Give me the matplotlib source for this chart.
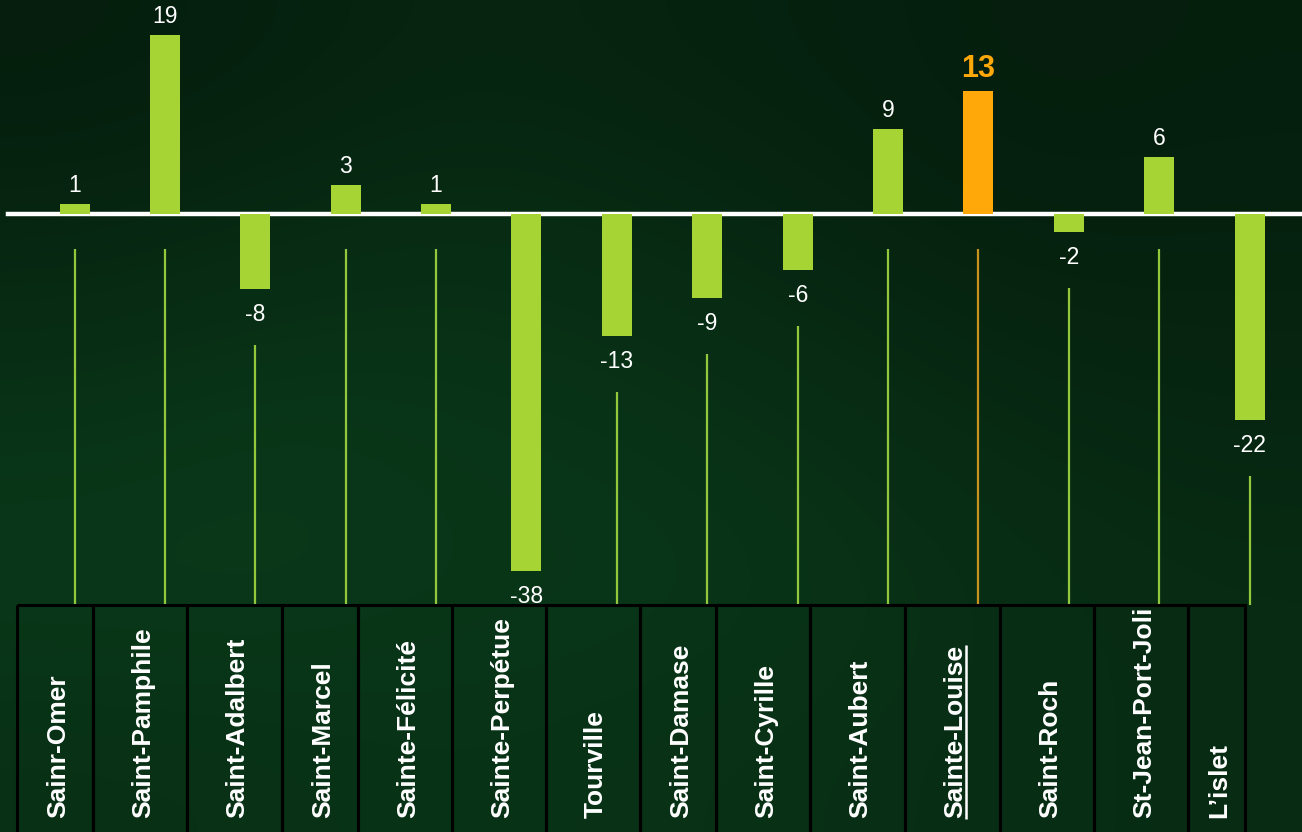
import matplotlib
matplotlib.use("Agg")
import matplotlib.pyplot as plt
import numpy as np
from matplotlib.patches import Rectangle

# ---------------- data ----------------
categories = ["Sainr-Omer", "Saint-Pamphile", "Saint-Adalbert", "Saint-Marcel",
              "Sainte-Félicité", "Sainte-Perpétue", "Tourville", "Saint-Damase",
              "Saint-Cyrille", "Saint-Aubert", "Sainte-Louise", "Saint-Roch",
              "St-Jean-Port-Joli", "L’islet"]
values = [1, 19, -8, 3, 1, -38, -13, -9, -6, 9, 13, -2, 6, -22]
highlight = "Sainte-Louise"

# ---------------- style / layout ----------------
W, H = 1302, 832
BAR_GREEN = "#a6d435"
LINE_GREEN = "#93c83c"
ORANGE = "#ffa80a"
LINE_ORANGE = "#c9921c"
plt.rcParams["font.family"] = ["Liberation Sans", "DejaVu Sans"]

fig = plt.figure(figsize=(W / 100, H / 100), dpi=100)

# background (soft dark-green gradient)
bg = fig.add_axes([0, 0, 1, 1], zorder=-5)
shade = np.array([
    [0.50, 0.55, 0.62, 0.58, 0.55, 0.50, 0.52],
    [0.65, 0.72, 0.78, 0.72, 0.62, 0.55, 0.56],
    [0.85, 0.92, 0.88, 0.85, 0.78, 0.68, 0.64],
    [0.95, 0.95, 0.90, 0.90, 0.85, 0.78, 0.72],
    [0.80, 0.82, 0.85, 0.82, 0.80, 0.76, 0.74],
])
base = np.array([0.040, 0.235, 0.105])
img = shade[..., None] * base[None, None, :]
bg.imshow(img, extent=(0, W, H, 0), aspect="auto", interpolation="bicubic")
bg.set_xlim(0, W); bg.set_ylim(H, 0); bg.axis("off")

# main axes in data units, mapped so bars sit at the reference positions
x0_px, dx_px = 74.5, 90.4     # first bar centre, spacing (pixels)
zero_px, scale = 213.5, 9.4   # zero line position, pixels per unit
ax = fig.add_axes([0, 0, 1, 1])
ax.set_xlim(-x0_px / dx_px, (W - x0_px) / dx_px)
ax.set_ylim(-(H - zero_px) / scale, zero_px / scale)
ax.axis("off")
ax.patch.set_alpha(0)

x = np.arange(len(categories))
colors = [ORANGE if c == highlight else BAR_GREEN for c in categories]
ax.axhline(0, xmin=8 / W, xmax=1, color="white", lw=3.2, zorder=2)
ax.bar(x, values, width=30 / dx_px, color=colors, zorder=3)

table_top = -(605 - zero_px) / scale
for xi, v, c in zip(x, values, categories):
    lc = LINE_ORANGE if c == highlight else LINE_GREEN
    start = -35 / scale if v > 0 else v - 56 / scale
    if start > table_top:
        ax.plot([xi, xi], [start, table_top], color=lc, lw=1.6, zorder=2,
                solid_capstyle="butt")
    if c == highlight:
        ax.annotate(str(v), (xi, v), xytext=(0, 5), textcoords="offset points",
                    ha="center", va="bottom", color=ORANGE, fontsize=22,
                    fontweight="bold")
    elif v > 0:
        ax.annotate(str(v), (xi, v), xytext=(0, 5), textcoords="offset points",
                    ha="center", va="bottom", color="white", fontsize=16.5)
    else:
        ax.annotate(str(v), (xi, v), xytext=(0, -10), textcoords="offset points",
                    ha="center", va="top", color="white", fontsize=16.5)

# table with rotated category names (pixel coordinates)
tax = fig.add_axes([0, 0, 1, 1])
tax.set_xlim(0, W); tax.set_ylim(H, 0); tax.axis("off")
tax.patch.set_alpha(0)
edges = [17, 93, 187, 282, 358, 452, 546, 640, 716, 810, 905, 1000, 1094, 1188, 1245]
for i, name in enumerate(categories):
    l, r = edges[i], edges[i + 1]
    tax.add_patch(Rectangle((l, 605), r - l, 250, facecolor="none",
                            edgecolor="black", lw=2.2, zorder=4))
    baseline_x = (l + r) / 2 + 10
    tax.text(baseline_x, 818, name, rotation=90, rotation_mode="anchor",
             ha="left", va="baseline", color="white", fontsize=19,
             fontweight="bold", zorder=5)
    if name == highlight:
        t = tax.texts[-1]
        fig.canvas.draw()
        bb = t.get_window_extent(fig.canvas.get_renderer())
        inv = tax.transData.inverted()
        (_, ya), (_, yb) = inv.transform([[bb.x0, bb.y0], [bb.x1, bb.y1]])
        tax.plot([baseline_x + 3, baseline_x + 3], [min(ya, yb), 818.5],
                 color="white", lw=1.8, zorder=5, solid_capstyle="butt")

fig.savefig("out.png", dpi=100)
